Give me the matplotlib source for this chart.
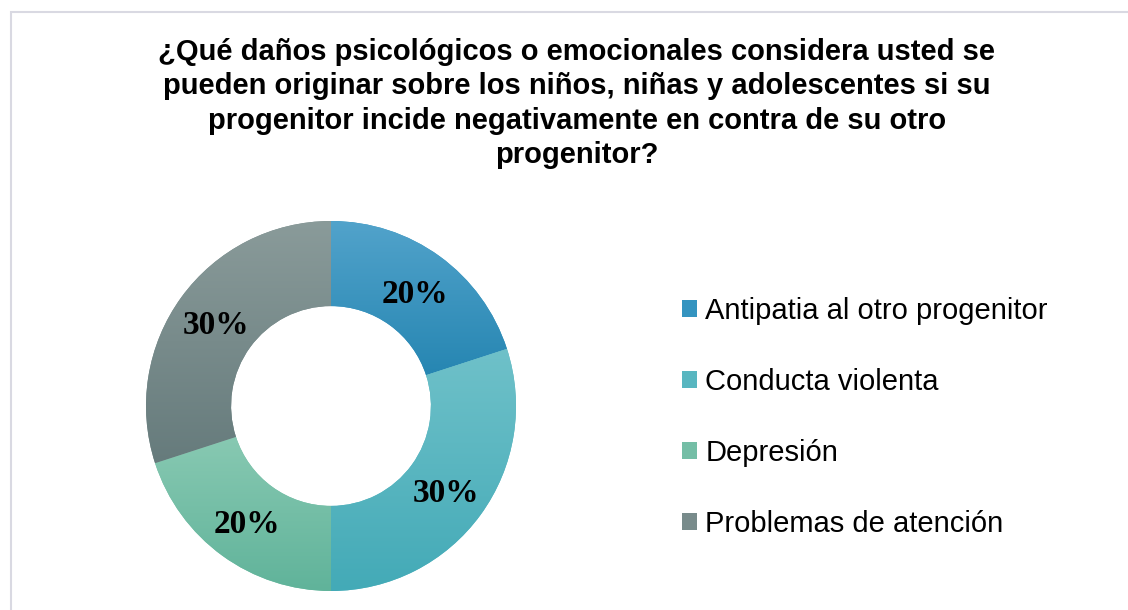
import numpy as np
import matplotlib
matplotlib.use("Agg")
import matplotlib.pyplot as plt
from matplotlib.patches import Rectangle
from matplotlib.colors import LinearSegmentedColormap

# data
categories = ["Antipatia al otro progenitor", "Conducta violenta",
              "Depresión", "Problemas de atención"]
values = [20, 30, 20, 30]
title = ("¿Qué daños psicológicos o emocionales considera usted se\n"
         "pueden originar sobre los niños, niñas y adolescentes si su\n"
         "progenitor incide negativamente en contra de su otro\n"
         "progenitor?")

# gradient colours (top, bottom) per slice
top_colors = ["#52A3CB", "#6FC1C9", "#88C9B2", "#8A9B9A"]
bottom_colors = ["#2686B2", "#43AAB7", "#60B39A", "#667B7C"]
mid_colors = ["#3494C0", "#58B6C0", "#74BEA6", "#788B8B"]

W, H = 1128, 610


def main():
    fig = plt.figure(figsize=(W / 100, H / 100), dpi=100)

    # chart border (light grey)
    fig.add_artist(Rectangle((11 / W, -0.1), 1.2, 0.98 + 0.1,
                             transform=fig.transFigure, fill=False,
                             edgecolor="#D9D9E2", linewidth=1.5))

    # title
    fig.text(577 / W, 1 - 38 / H, title, ha="center", va="top",
             fontsize=21, fontweight="bold", family="Liberation Sans",
             linespacing=1.29)

    # donut
    cx, cy, r = 331, H - 406, 185
    ax = fig.add_axes([(cx - r) / W, (cy - r) / H, 2 * r / W, 2 * r / H])
    wedges, texts, autotexts = ax.pie(
        values, colors=mid_colors, startangle=90, counterclock=False,
        radius=1, wedgeprops=dict(width=0.46, edgecolor="none"),
        autopct="%1.0f%%", pctdistance=0.77,
        textprops=dict(fontsize=24, fontweight="bold",
                       family="Liberation Serif", color="black"))
    ax.set_aspect("equal")
    ax.axis("off")

    # vertical gradient inside each slice
    grad = np.linspace(1, 0, 256).reshape(-1, 1)
    for w, c0, c1 in zip(wedges, top_colors, bottom_colors):
        ext = w.get_path().get_extents()
        cmap = LinearSegmentedColormap.from_list("g", [c1, c0])
        im = ax.imshow(grad, cmap=cmap, aspect="auto",
                       extent=(ext.x0, ext.x1, ext.y0, ext.y1),
                       origin="upper", zorder=1)
        im.set_clip_path(w)
    for t in autotexts:
        t.set_zorder(3)
        t.set_va("center_baseline")
    ax.set_xlim(-1, 1)
    ax.set_ylim(-1, 1)

    # legend
    fig.legend(wedges, categories, loc="upper left",
               bbox_to_anchor=(656 / W, 1 - 271 / H), frameon=False,
               prop=dict(family="Liberation Sans", size=21),
               handlelength=0.52, handleheight=0.52, handletextpad=0.27,
               labelspacing=1.47)

    fig.savefig("out.png", dpi=100)


if __name__ == "__main__":
    main()
